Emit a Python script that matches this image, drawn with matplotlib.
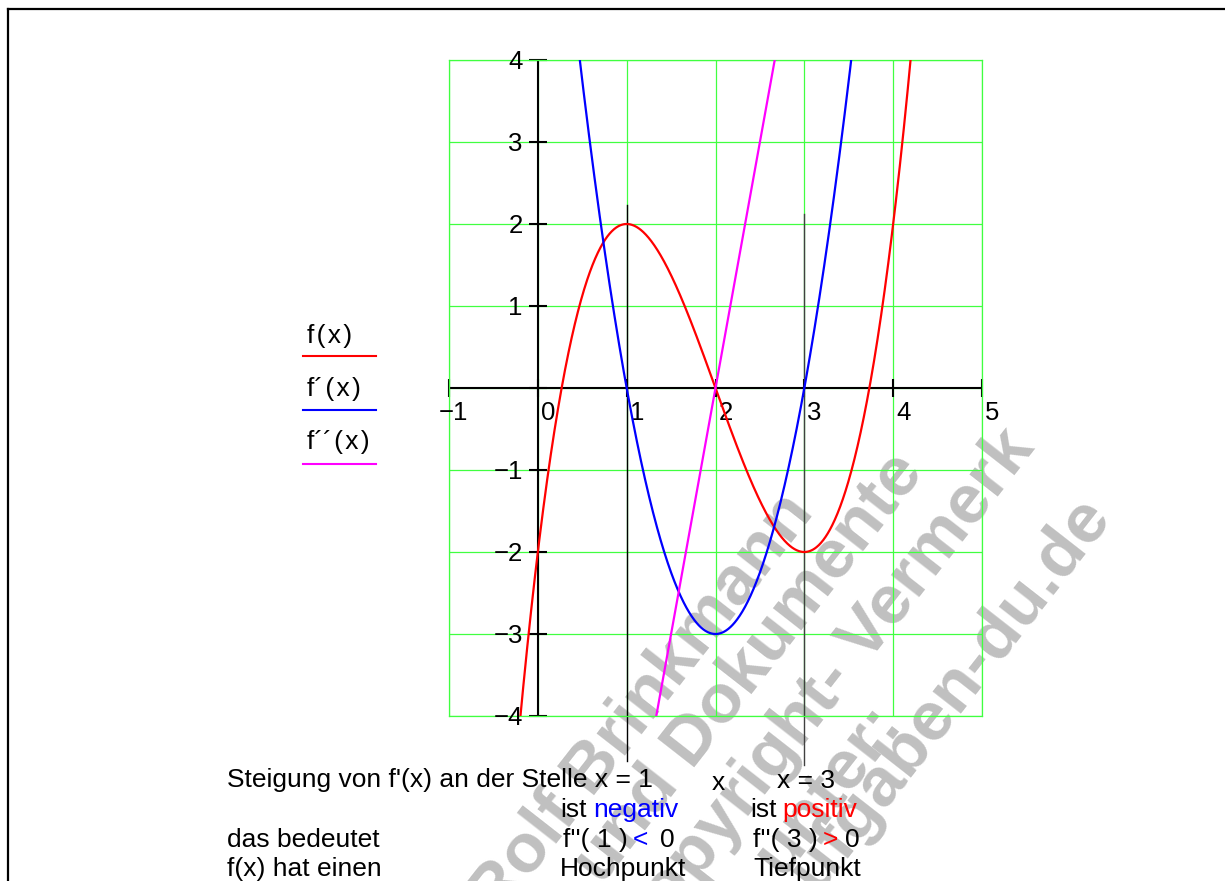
import matplotlib
matplotlib.use("Agg")
import matplotlib.pyplot as plt
import numpy as np
from matplotlib.lines import Line2D

plt.rcParams['font.family'] = ['Liberation Sans', 'DejaVu Sans']

# polynomial coefficients (highest power first): f, f', f''
f_coef = [1, -6, 9, -2]
f1_coef = [3, -12, 9]
f2_coef = [6, -12]

x_ticks = [-1, 0, 1, 2, 3, 4, 5]
y_ticks = [-4, -3, -2, -1, 0, 1, 2, 3, 4]
x_labels = ["\u22121", "0", "1", "2", "3", "4", "5"]
y_labels = ["\u22124", "\u22123", "\u22122", "\u22121", "", "1", "2", "3", "4"]

legend_names = ["f\u200a(\u200ax\u200a)", "f\u00b4\u200a(\u200ax\u200a)",
                "f\u00b4\u00b4\u200a(\u200ax\u200a)"]
curve_colors = ["#ff0000", "#0000ff", "#ff00ff"]

# marker lines at the extrema (x, top y, bottom y)
marks = [(1, 2.23, -4.55, "black"), (3, 2.12, -4.6, "#404040")]

W, H = 1225, 881
fig = plt.figure(figsize=(W / 100, H / 100), dpi=100)
fig.patch.set_facecolor("white")


def px(x, y):
    return x / W, 1 - y / H


# watermark behind everything
wm = [("Rolf Brinkmann", 815, 512),
      ("und Dokumente", 925, 472),
      ("Copyright- Vermerk", 1036, 448),
      ("unter:", 902, 722),
      ("aufgaben-du.de", 1112, 518)]
for s, xx, yy in wm:
    fig.text(*px(xx, yy), s, rotation=52, rotation_mode="anchor",
             ha="right", va="baseline", fontsize=50, fontweight="bold",
             color="#c0c0c0", zorder=-1)

ax = fig.add_axes([449 / W, 1 - 716 / H, 533 / W, 656 / H])
ax.patch.set_visible(False)
ax.set_xlim(-1, 5)
ax.set_ylim(-4, 4)
ax.set_xticks(x_ticks)
ax.set_yticks(y_ticks)
ax.tick_params(length=0, labelbottom=False, labelleft=False)
ax.grid(True, color="#40ff40", lw=0.9)
for sp in ax.spines.values():
    sp.set_color("#40ff40")
    sp.set_linewidth(0.9)

# coordinate axes through origin
ax.axhline(0, color="black", lw=1.5, zorder=2)
ax.axvline(0, color="black", lw=1.5, zorder=2)
ax.plot(x_ticks, [0] * len(x_ticks), ls="none", marker="|", ms=13,
        mew=1.5, color="black", clip_on=False, zorder=2)
ax.plot([0] * len(y_ticks), y_ticks, ls="none", marker="_", ms=13,
        mew=1.5, color="black", clip_on=False, zorder=2)

for xv, lab in zip(x_ticks, x_labels):
    dx = -10 if xv < 0 else 3
    ax.annotate(lab, (xv, 0), xytext=(dx, -13), textcoords="offset pixels",
                ha="left", va="top", fontsize=18.5, annotation_clip=False)
for yv, lab in zip(y_ticks, y_labels):
    ax.annotate(lab, (0, yv), xytext=(-15, -2), textcoords="offset pixels",
                ha="right", va="center", fontsize=18.5, annotation_clip=False)

xs = np.linspace(-1, 5, 1200)
for coef, c in zip([f_coef, f1_coef, f2_coef], curve_colors):
    ax.plot(xs, np.polyval(coef, xs), color=c, lw=1.6, zorder=3)

for xm, y0, y1, c in marks:
    ax.plot([xm, xm], [y0, y1], color=c, lw=1, clip_on=False, zorder=2)

# legend at the left
leg_text_y = [343, 396, 449]
leg_line_y = [356, 410, 464]
for name, c, ty, ly in zip(legend_names, curve_colors, leg_text_y, leg_line_y):
    fig.text(*px(307, ty), name, fontsize=19, va="baseline", ha="left")
    fig.add_artist(Line2D([303 / W, 376 / W], [1 - ly / H, 1 - ly / H],
                          color=c, lw=1.5))

# text below the plot
texts = [
    ("Steigung von f'(x) an der Stelle x = 1", 227, 787, "black"),
    ("x", 712, 790, "black"),
    ("x = 3", 777, 788, "black"),
    ("ist", 560, 817, "black"),
    ("negativ", 593, 817, "#0000ff"),
    ("ist", 750, 817, "black"),
    ("positiv", 782, 817, "#ff0000"),
    ("das bedeutet", 227, 847, "black"),
    ("f''( 1 )", 563, 847, "black"),
    ("<", 633, 847, "#0000ff"),
    ("0", 660, 847, "black"),
    ("f''( 3 )", 753, 847, "black"),
    (">", 823, 847, "#ff0000"),
    ("0", 845, 847, "black"),
    ("f(x) hat einen", 227, 876, "black"),
    ("Hochpunkt", 560, 876, "black"),
    ("Tiefpunkt", 753, 876, "black"),
]
for s, xx, yy, c in texts:
    fig.text(*px(xx, yy), s, fontsize=19, color=c, ha="left", va="baseline")

# frame
fig.add_artist(Line2D([8.3 / W, 8.3 / W], [1 - 9.3 / H, 0], color="black", lw=1.6))
fig.add_artist(Line2D([8.3 / W, 1], [1 - 9.3 / H, 1 - 9.3 / H], color="black", lw=1.6))

fig.savefig("out.png", dpi=100)
